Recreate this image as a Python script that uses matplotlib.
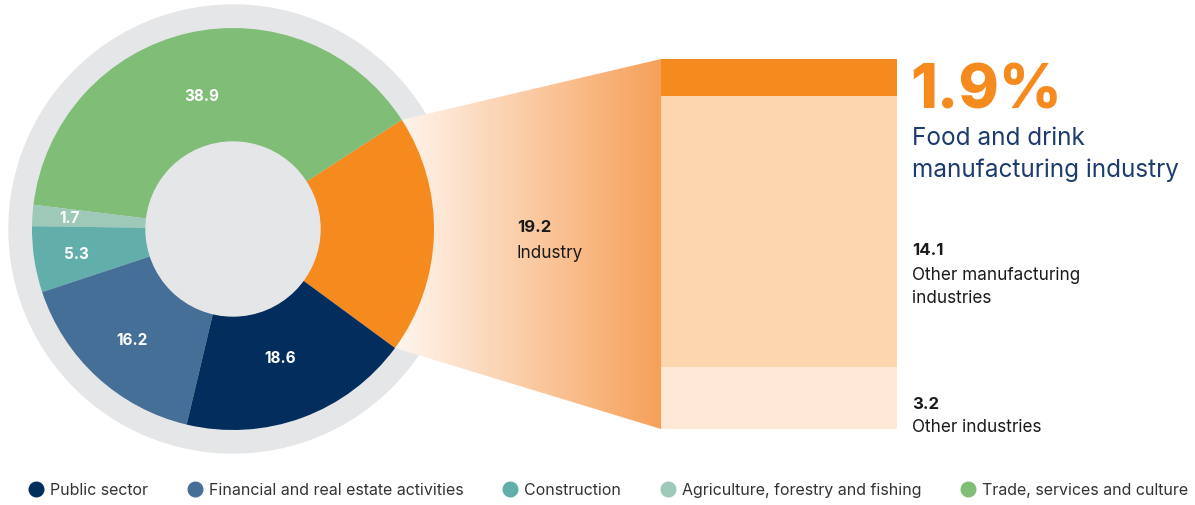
import numpy as np
import matplotlib
matplotlib.use("Agg")
import matplotlib.pyplot as plt
from matplotlib.patches import Circle, Polygon
from matplotlib.lines import Line2D
from matplotlib.colors import to_rgb

plt.rcParams['font.family'] = ['Inter', 'DejaVu Sans']

# pie data (share of total, %), drawn counter-clockwise starting at Industry
sectors = ['Industry', 'Trade, services and culture', 'Agriculture, forestry and fishing',
           'Construction', 'Financial and real estate activities', 'Public sector']
shares = [19.2, 38.9, 1.7, 5.3, 16.2, 18.6]
sector_colors = ['#f58a1f', '#80bd76', '#9ec8b8', '#62aeaa', '#466f98', '#022d5c']

# breakdown of industry (bottom to top)
industry_parts = ['Other industries', 'Other manufacturing\nindustries', 'Food and drink']
industry_vals = [3.2, 14.1, 1.9]
industry_colors = ['#fde9d6', '#fdd5ae', '#f58a1f']

legend_order = ['Public sector', 'Financial and real estate activities', 'Construction',
                'Agriculture, forestry and fishing', 'Trade, services and culture']

W, H = 1195, 506
fig = plt.figure(figsize=(W / 100, H / 100), dpi=100)
ax = fig.add_axes([0, 0, 1, 1])

cx, cy = 233, 276
R, r_in = 201, 87
grey = '#e5e6e8'

ax.add_patch(Circle((cx, cy), 224, color=grey, zorder=1))
ax.add_patch(Circle((cx, cy), r_in, color=grey, zorder=4))

wedges, _ = ax.pie(shares, colors=sector_colors, startangle=-36.3, radius=R,
                   center=(cx, cy), counterclock=True,
                   wedgeprops=dict(width=R - r_in, edgecolor='none', zorder=3))

# slice labels
label_r = [None, 137, 164, 158, 150, 137]
for w, v, lr in zip(wedges, shares, label_r):
    if lr is None:
        continue
    a = np.deg2rad((w.theta1 + w.theta2) / 2)
    ax.text(cx + lr * np.cos(a), cy + lr * np.sin(a), f'{v}', color='white',
            fontsize=11, fontweight='bold', ha='center', va='center', zorder=5)

# bar box (pixels)
bx, by, bw, bh = 661, 76, 236, 370

# fan from industry slice to bar
t1, t2 = np.deg2rad(wedges[0].theta1), np.deg2rad(wedges[0].theta2)
p_top = (cx + R * np.cos(t2), cy + R * np.sin(t2))
p_bot = (cx + R * np.cos(t1), cy + R * np.sin(t1))
fan = Polygon([p_bot, p_top, (bx, by + bh), (bx, by)], closed=True,
              facecolor='none', edgecolor='none')
ax.add_patch(fan)
c0, c1 = np.array(to_rgb('#fff6ef')), np.array(to_rgb('#f6a059'))
t = np.linspace(0, 1, 256)[:, None]
grad = (c0 * (1 - t) + c1 * t)[None, :, :]
x0 = min(p_top[0], p_bot[0])
im = ax.imshow(grad, extent=(x0, bx, by, by + bh), aspect='auto', zorder=2,
               interpolation='bilinear')
im.set_clip_path(fan)

ax.set_xlim(0, W)
ax.set_ylim(0, H)
ax.set_aspect('equal')
ax.axis('off')

# stacked bar
bax = fig.add_axes([bx / W, by / H, bw / W, bh / H])
bottom = 0
for v, c in zip(industry_vals, industry_colors):
    bax.bar(0, v, bottom=bottom, width=1, color=c, edgecolor='none')
    bottom += v
bax.set_xlim(-0.5, 0.5)
bax.set_ylim(0, sum(industry_vals))
bax.axis('off')

def T(y):
    return H - y

txt = '#1a1a1a'
ax.text(517, T(232), f'{shares[0]}', fontsize=12, fontweight='bold', color=txt, va='baseline')
ax.text(517, T(258), sectors[0], fontsize=12.3, color=txt, va='baseline')

ax.text(910, T(108), f'{industry_vals[2]}%', fontsize=44, fontweight='heavy',
        color='#f58a1f', va='baseline')
ax.text(912, T(145), 'Food and drink', fontsize=17.5, color='#1d3c6c', va='baseline')
ax.text(912, T(177), 'manufacturing industry', fontsize=17.5, color='#1d3c6c', va='baseline')

ax.text(912, T(255), f'{industry_vals[1]}', fontsize=12, fontweight='bold', color=txt, va='baseline')
ax.text(912, T(280), 'Other manufacturing', fontsize=12.3, color=txt, va='baseline')
ax.text(912, T(303), 'industries', fontsize=12.3, color=txt, va='baseline')
ax.text(912, T(409), f'{industry_vals[0]}', fontsize=12, fontweight='bold', color=txt, va='baseline')
ax.text(912, T(432), industry_parts[0], fontsize=12.3, color=txt, va='baseline')

# legend
col = dict(zip(sectors, sector_colors))
handles = [Line2D([], [], marker='o', linestyle='none', markersize=10.5,
                  color=col[s], label=s) for s in legend_order]
fig.legend(handles=handles, ncol=5, loc='center left', bbox_to_anchor=(14 / W, 15 / H),
           frameon=False, fontsize=11.5, handletextpad=0.35, columnspacing=2.45,
           handlelength=1.0, labelcolor='#333333')

fig.savefig('out.png', dpi=100)
